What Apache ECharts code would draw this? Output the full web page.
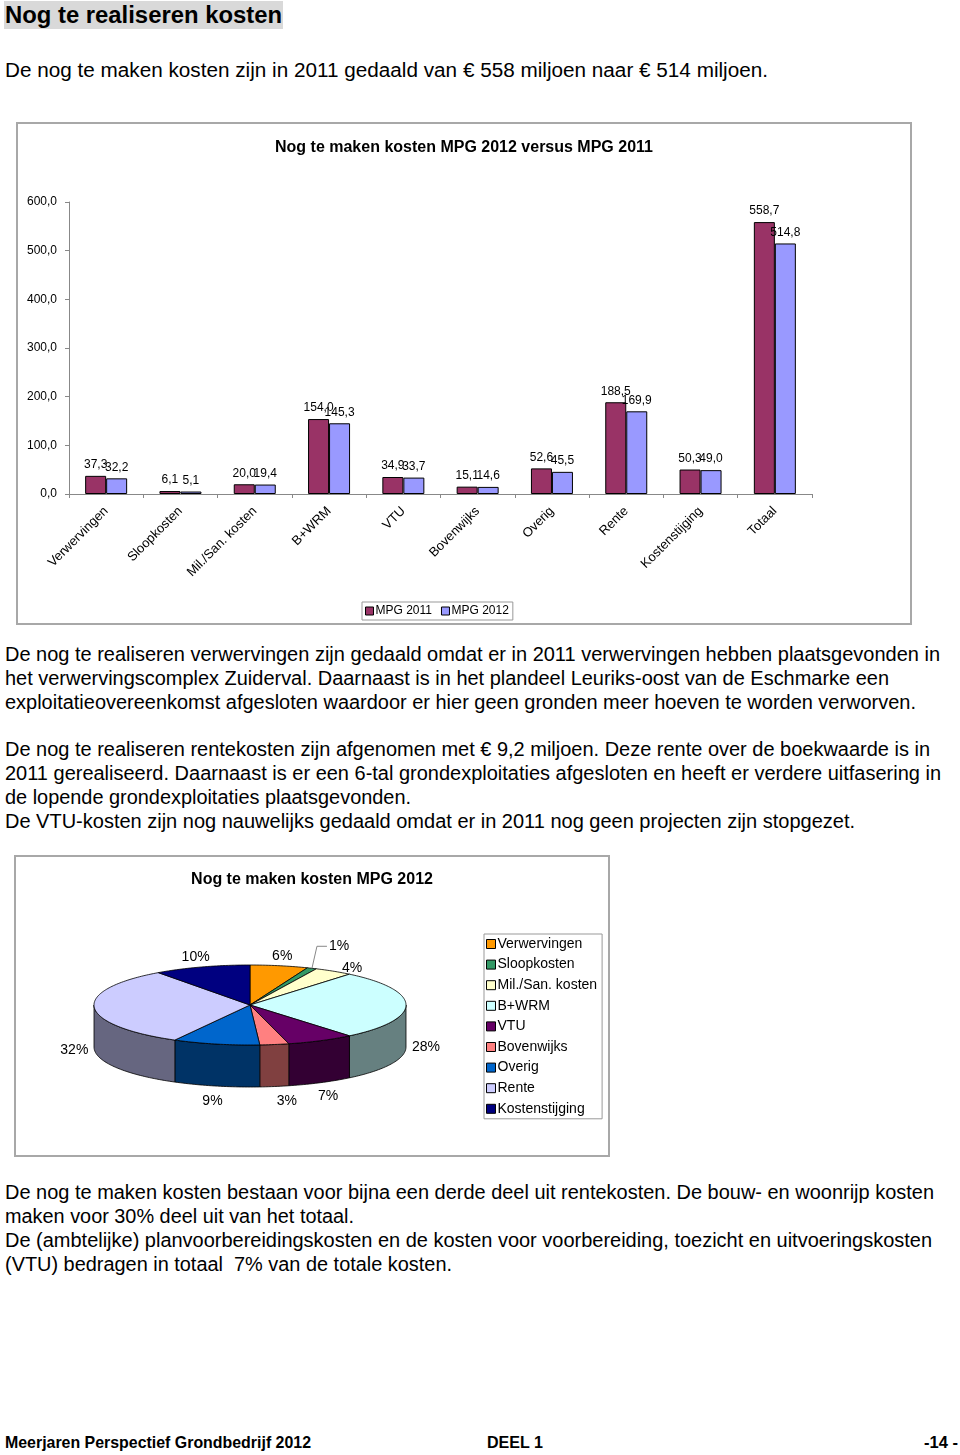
<!DOCTYPE html>
<html><head><meta charset="utf-8">
<script src="https://cdn.jsdelivr.net/npm/echarts@6/dist/echarts.min.js"></script>
<style>
html,body{margin:0;padding:0;background:#fff}
body{width:960px;height:1455px;position:relative;overflow:hidden;font-family:"Liberation Sans",Arial,sans-serif;color:#000}
.ln{position:absolute;left:5px;white-space:pre;font-size:20px;line-height:24px;height:24px;transform-origin:0 50%}
.ln span{display:inline-block}
.head{position:absolute;left:4px;top:1px;width:279px;height:28px;background:#d9d9d9}
.box{position:absolute;border:2px solid #a8a8a8;box-sizing:border-box;pointer-events:none}
.chart{position:absolute}
.b{font-weight:bold}
</style></head>
<body>
<div class="head"></div>
<div class="ln b" style="top:3px;font-size:23px;line-height:24px" data-w="277"><span>Nog te realiseren kosten</span></div>
<div class="ln" style="top:58px" data-w="763"><span>De nog te maken kosten zijn in 2011 gedaald van € 558 miljoen naar € 514 miljoen.</span></div>

<div id="bar" class="chart" style="left:17px;top:123px;width:894px;height:501px"></div>
<div class="box" style="left:16px;top:122px;width:896px;height:503px"></div>

<div class="ln" style="top:642px" data-w="935"><span>De nog te realiseren verwervingen zijn gedaald omdat er in 2011 verwervingen hebben plaatsgevonden in</span></div>
<div class="ln" style="top:666px" data-w="884"><span>het verwervingscomplex Zuiderval. Daarnaast is in het plandeel Leuriks-oost van de Eschmarke een</span></div>
<div class="ln" style="top:690px" data-w="911"><span>exploitatieovereenkomst afgesloten waardoor er hier geen gronden meer hoeven te worden verworven.</span></div>
<div class="ln" style="top:737px" data-w="925"><span>De nog te realiseren rentekosten zijn afgenomen met € 9,2 miljoen. Deze rente over de boekwaarde is in</span></div>
<div class="ln" style="top:761px" data-w="936"><span>2011 gerealiseerd. Daarnaast is er een 6-tal grondexploitaties afgesloten en heeft er verdere uitfasering in</span></div>
<div class="ln" style="top:785px" data-w="406"><span>de lopende grondexploitaties plaatsgevonden.</span></div>
<div class="ln" style="top:809px" data-w="850"><span>De VTU-kosten zijn nog nauwelijks gedaald omdat er in 2011 nog geen projecten zijn stopgezet.</span></div>

<div id="pie" class="chart" style="left:15px;top:856px;width:594px;height:300px"></div>
<div class="box" style="left:14px;top:855px;width:596px;height:302px"></div>

<div class="ln" style="top:1180px" data-w="929"><span>De nog te maken kosten bestaan voor bijna een derde deel uit rentekosten. De bouw- en woonrijp kosten</span></div>
<div class="ln" style="top:1204px" data-w="349"><span>maken voor 30% deel uit van het totaal.</span></div>
<div class="ln" style="top:1228px" data-w="927"><span>De (ambtelijke) planvoorbereidingskosten en de kosten voor voorbereiding, toezicht en uitvoeringskosten</span></div>
<div class="ln" style="top:1252px" data-w="447"><span>(VTU) bedragen in totaal  7% van de totale kosten.</span></div>

<div class="ln b" style="top:1431px;font-size:17px" data-w="306"><span>Meerjaren Perspectief Grondbedrijf 2012</span></div>
<div class="ln b" style="top:1431px;left:487px;font-size:17px" data-w="56"><span>DEEL 1</span></div>
<div class="ln b" style="top:1431px;left:924px;font-size:17px" data-w="34"><span>-14 -</span></div>

<script>
// ---------- data ----------
const categories = ['Verwervingen','Sloopkosten','Mil./San. kosten','B+WRM','VTU','Bovenwijks','Overig','Rente','Kostenstijging','Totaal'];
const mpg2011 = [37.3, 6.1, 20.0, 154.0, 34.9, 15.1, 52.6, 188.5, 50.3, 558.7];
const mpg2012 = [32.2, 5.1, 19.4, 145.3, 33.7, 14.6, 45.5, 169.9, 49.0, 514.8];
const seriesNames = ['MPG 2011','MPG 2012'];
const yTicks = {min:0, max:600, interval:100};

const pieNames = ['Verwervingen','Sloopkosten','Mil./San. kosten','B+WRM','VTU','Bovenwijks','Overig','Rente','Kostenstijging'];
const piePercents = [6, 1, 4, 28, 7, 3, 9, 32, 10];
const pieColors = ['#FF9900','#339966','#FFFFCC','#CCFFFF','#660066','#FF8080','#0066CC','#CCCCFF','#000080'];

// ---------- text fitting ----------
function fitLines(){
  document.querySelectorAll('.ln').forEach(el=>{
    const w = +el.dataset.w; const s = el.querySelector('span');
    const mw = s.getBoundingClientRect().width;
    if (w && mw) el.style.transform = 'scaleX(' + (w/mw) + ')';
  });
}
fitLines();

const FONT = '"Liberation Sans", Arial, sans-serif';
const fmt = v => Number(v).toFixed(1).replace('.', ',');

// ---------- bar chart ----------
const bar = echarts.init(document.getElementById('bar'), null, {renderer:'canvas'});
bar.setOption({
  animation:false,
  backgroundColor:'#fff',
  textStyle:{fontFamily:FONT, color:'#000'},
  title:{text:'Nog te maken kosten MPG 2012 versus MPG 2011', left:'center', top:12,
    textStyle:{fontFamily:FONT, fontSize:16, fontWeight:'bold', color:'#000'}},
  legend:{data:seriesNames, left:345, top:479, orient:'horizontal', icon:'rect',
    itemWidth:8, itemHeight:8, itemGap:9, padding:[3,4,3,3],
    borderColor:'#999', borderWidth:1, borderRadius:0,
    itemStyle:{borderColor:'#000', borderWidth:1},
    textStyle:{fontFamily:FONT, fontSize:12, color:'#000', padding:[0,0,0,-3]}},
  grid:{left:52, top:79, width:743, height:292, containLabel:false, outerBoundsMode:'none'},
  xAxis:{type:'category', data:categories,
    axisLine:{lineStyle:{color:'#888', width:1}},
    axisTick:{show:true, length:4, lineStyle:{color:'#888'}},
    axisLabel:{rotate:45, fontFamily:FONT, fontSize:13, color:'#000', margin:15, interval:0},
    splitLine:{show:false}},
  yAxis:{type:'value', min:yTicks.min, max:yTicks.max, interval:yTicks.interval,
    axisLine:{show:true, lineStyle:{color:'#888', width:1}},
    axisTick:{show:true, length:4, lineStyle:{color:'#888'}},
    axisLabel:{formatter:fmt, fontFamily:FONT, fontSize:12, color:'#000', margin:12},
    splitLine:{show:false}},
  series:[
    {name:seriesNames[0], type:'bar', data:mpg2011, barWidth:21, barGap:'0%',
      itemStyle:{color:'#993366', borderColor:'#000', borderWidth:1},
      label:{show:true, position:'top', distance:5, formatter:p=>fmt(p.value), fontFamily:FONT, fontSize:12, color:'#000'}},
    {name:seriesNames[1], type:'bar', data:mpg2012, barWidth:21, barGap:'0%',
      itemStyle:{color:'#9999FF', borderColor:'#000', borderWidth:1},
      label:{show:true, position:'top', distance:5, formatter:p=>fmt(p.value), fontFamily:FONT, fontSize:12, color:'#000'}}
  ]
});

// ---------- 3D-look pie ----------
const PC = {cx:235, cy:149, rx:156, ry:40, depth:42};
const total = piePercents.reduce((a,b)=>a+b,0);
const cum = []; piePercents.reduce((acc,v,i)=>{cum[i]=acc; return acc+v;},0);
function shade(hex, f){
  const n = parseInt(hex.slice(1),16);
  const r = Math.round(((n>>16)&255)*f), g = Math.round(((n>>8)&255)*f), b = Math.round((n&255)*f);
  return 'rgb(' + r + ',' + g + ',' + b + ')';
}
function P(a, dy){ return [PC.cx + PC.rx*Math.sin(a), PC.cy - PC.ry*Math.cos(a) + (dy||0)]; }
function renderItem(params, api){
  const i = params.dataIndex;
  const v = api.value(0);
  const a0 = cum[i]/total*2*Math.PI, a1 = (cum[i]+v)/total*2*Math.PI;
  const col = pieColors[i];
  const children = [];
  const b0 = Math.max(a0, Math.PI/2), b1 = Math.min(a1, 1.5*Math.PI);
  if (b1 > b0){
    const n = Math.max(2, Math.ceil((b1-b0)/0.02)); const pts=[];
    for (let k=0;k<=n;k++) pts.push(P(b0+(b1-b0)*k/n));
    for (let k=n;k>=0;k--) pts.push(P(b0+(b1-b0)*k/n, PC.depth));
    children.push({type:'polygon', z2:1, shape:{points:pts}, style:{fill:shade(col,0.5), stroke:'#000', lineWidth:0.8}});
  }
  const n2 = Math.max(2, Math.ceil((a1-a0)/0.02)); const tp=[[PC.cx,PC.cy]];
  for (let k=0;k<=n2;k++) tp.push(P(a0+(a1-a0)*k/n2));
  children.push({type:'polygon', z2:2, shape:{points:tp}, style:{fill:col, stroke:'#000', lineWidth:0.8}});
  const am = (a0+a1)/2, s = Math.sin(am), c = Math.cos(am);
  const txt = v + '%';
  if (v <= 1.5){
    const e = P(am);
    children.push({type:'polyline', z2:3, shape:{points:[e,[e[0]+5,e[1]-22],[e[0]+15,e[1]-22]]}, style:{stroke:'#888', lineWidth:1, fill:null}});
    children.push({type:'text', z2:3, style:{text:txt, x:e[0]+17, y:e[1]-22, align:'left', verticalAlign:'middle', fill:'#000', font:'14px ' + FONT}});
  } else {
    const w = txt.length*8;
    const lx = PC.cx + (PC.rx+8)*s + (w/2)*s + (v < 5 ? 10 : 0);
    const ly = PC.cy - (PC.ry + (c<0?15:10))*c + (c<0.05?PC.depth:0) + (v < 5 && c > 0 ? 5 : 0);
    children.push({type:'text', z2:3, style:{text:txt, x:lx, y:ly, align:'center', verticalAlign:'middle', fill:'#000', font:'14px ' + FONT}});
  }
  return {type:'group', children};
}
const pie = echarts.init(document.getElementById('pie'), null, {renderer:'canvas'});
pie.setOption({
  animation:false,
  backgroundColor:'#fff',
  textStyle:{fontFamily:FONT, color:'#000'},
  title:{text:'Nog te maken kosten MPG 2012', left:'center', top:11,
    textStyle:{fontFamily:FONT, fontSize:16, fontWeight:'bold', color:'#000'}},
  legend:{data:pieNames, orient:'vertical', left:469, top:78, icon:'rect',
    itemWidth:9, itemHeight:9, itemGap:6.6, padding:[3,5,3,2],
    borderColor:'#999', borderWidth:1, borderRadius:0,
    itemStyle:{borderColor:'#000', borderWidth:1},
    textStyle:{fontFamily:FONT, fontSize:14, lineHeight:14, color:'#000', padding:[0,0,0,-3]}},
  series:[
    {type:'custom', coordinateSystem:'none', renderItem:renderItem, data:piePercents.map(v=>[v]), silent:true},
    {type:'pie', radius:[0,0], center:[PC.cx,PC.cy], silent:true, label:{show:false}, labelLine:{show:false},
      data:pieNames.map((n,i)=>({name:n, value:piePercents[i], itemStyle:{color:pieColors[i]}}))}
  ]
});
</script>
</body></html>
